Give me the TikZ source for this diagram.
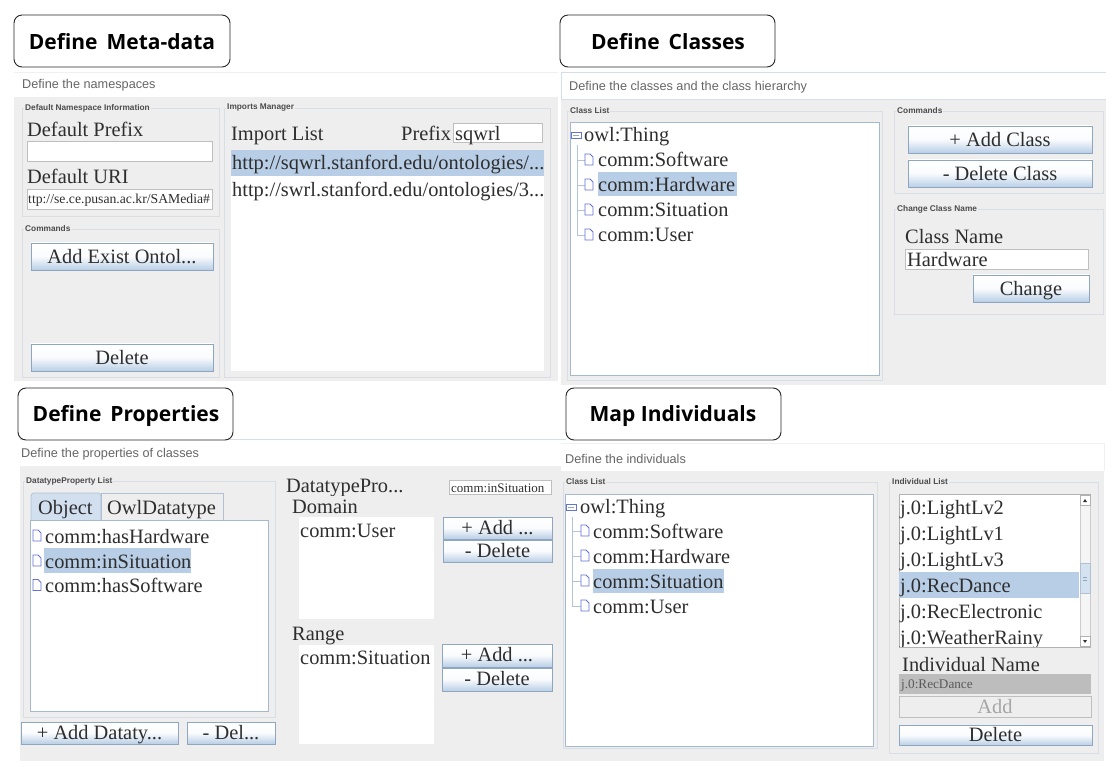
\documentclass[tikz,border=0pt]{standalone}
\usepackage{fontspec}
\setmainfont{Liberation Serif}
\newfontfamily\uifont{Liberation Sans}
\newfontfamily\titlefont{Open Sans}
\usetikzlibrary{calc}
\definecolor{panelgray}{HTML}{EEEEEE}
\definecolor{frameline}{HTML}{D9DEE4}
\definecolor{selblue}{HTML}{B8CEE6}
\definecolor{treeline}{HTML}{B4C4D8}
\definecolor{ink}{HTML}{2E2E2E}
\definecolor{edge}{HTML}{8FA6C0}
\definecolor{sepline}{HTML}{D5DEE8}
\newcommand{\fsz}[1]{\fontsize{#1}{#1}\selectfont}
\tikzset{
  x=1pt,y=-1pt,
  panelbg/.style={fill=panelgray,draw=none},
  sepstyle/.style={draw=sepline,line width=1pt},
  titlebox/.style={draw=black!85,fill=white,rounded corners=8pt,line width=0.9pt},
  titletext/.style={font=\titlefont\bfseries\fsz{21},text=black,inner sep=0pt,anchor=base},
  subtext/.style={font=\uifont\fsz{12.7},text=black!60,inner sep=0pt,anchor=west},
  grpframe/.style={draw=frameline,line width=0.9pt},
  grplabel/.style={font=\uifont\bfseries\fsz{8.3},text=black!70,fill=panelgray,inner sep=1pt,anchor=west},
  uitext/.style={font=\fsz{20.4},text=ink,inner sep=0pt,anchor=base west},
  uicenter/.style={font=\fsz{20.4},text=ink,inner sep=0pt,anchor=base},
  field/.style={fill=white,draw=black!25,line width=0.7pt},
  whitelist/.style={fill=white,draw=none},
  listbox/.style={fill=white,draw=edge!80,line width=0.9pt},
  selrow/.style={fill=selblue,draw=none},
  btnbox/.style={draw=edge,line width=0.8pt,top color=white,bottom color=selblue,middle color=white!92!selblue,shading angle=0},
  docicon/.style={draw=edge!70!blue,fill=white,line width=0.8pt},
  treelink/.style={draw=treeline,line width=0.7pt},
}
% group frame: name, x1,y1,x2,y2, label
\newcommand{\grp}[6]{\draw[grpframe] (#2,#3) rectangle (#4,#5);
  \node[grplabel] (#1) at (#2+2,#3) {#6};}
% button: name, x1,y1,x2,y2, label
\newcommand{\btn}[6]{\path[btnbox] (#2,#3) rectangle (#4,#5);
  \node[uicenter] (#1) at ({(#2+#4)/2},{(#3+#5)/2+2+(#5-#3)*0.185}) {#6};}
% tree row: name, icon-x, text-x, baseline, label
\newcommand{\doc}[5]{\draw[docicon] (#2,#4-13) -- (#2+5,#4-13) -- (#2+8,#4-10) -- (#2+8,#4-2) -- (#2,#4-2) -- cycle;
  \node[uitext] (#1) at (#3,#4) {#5};}
\newcommand{\fold}[2]{\draw[docicon] (#1,#2-3) rectangle (#1+10,#2+3);
  \draw[edge,line width=0.8pt] (#1+2,#2) -- (#1+8,#2);}
\begin{document}
\begin{tikzpicture}
\useasboundingbox (0,0) rectangle (1112,767);
\fill[white] (0,0) rectangle (1112,767);

% ---------- Define Meta-data ----------
\path[panelbg] (14,97) rectangle (558,381);
\draw[draw=black!6,line width=0.8pt] (14,72) -- (558,72);
\node[subtext] (subA) at (22,85.5) {Define the namespaces};
\grp{gA1}{22}{108}{219}{216}{Default Namespace Information}
\node[uitext] (tPrefix) at (27,137) {Default Prefix};
\path[field] (27,141) rectangle (212,161);
\node[uitext] (tUri) at (27,184) {Default URI};
\path[field] (27,189) rectangle (212,209);
\node[font=\fsz{13.7},text=ink,inner sep=0pt,anchor=base west] (vUri) at (28,204) {ttp://se.ce.pusan.ac.kr/SAMedia\#};
\grp{gA2}{22}{229}{219}{377}{Commands}
\btn{bExist}{31}{243}{213}{270}{Add Exist Ontol...}
\btn{bDelA}{31}{344}{213}{371}{Delete}
\grp{gA3}{224}{108}{550}{377}{Imports Manager}
\node[uitext] (tImport) at (231,141) {Import List};
\node[uitext] (tPfx) at (401,141) {Prefix};
\path[field] (453,123) rectangle (542,142);
\node[uitext] (vPfx) at (455,141) {sqwrl};
\path[whitelist] (231,150) rectangle (544,371);
\path[selrow] (231,150) rectangle (544,176);
\node[uitext] (imp1) at (232,170) {http://sqwrl.stanford.edu/ontologies/...};
\node[uitext] (imp2) at (232,197) {http://swrl.stanford.edu/ontologies/3...};
\draw[titlebox] (14,15) rectangle (230,67);
\node[titletext] (tA) at (122,50) {Define\, Meta-data};

% ---------- Define Classes ----------
\path[panelbg] (561,100) rectangle (1106,385);
\draw[sepstyle] (561,73) -- (1106,73);
\draw[sepstyle] (561,73) -- (561,100) -- (1106,100);
\node[subtext] (subB) at (569,87.5) {Define the classes and the class hierarchy};
\grp{gB1}{567}{111}{882}{380}{Class List}
\path[listbox] (570,122) rectangle (879,375);
\path[selrow] (598,172) rectangle (737,196);
\draw[treelink] (577,145) -- (577,235) -- (585,235) (577,160) -- (585,160) (577,185) -- (585,185) (577,210) -- (585,210);
\fold{571}{135}
\node[uitext] (bThing) at (584,142) {owl:Thing};
\doc{bSoft}{585}{598}{167}{comm:Software}
\doc{bHard}{585}{598}{192}{comm:Hardware}
\doc{bSitu}{585}{598}{217}{comm:Situation}
\doc{bUser}{585}{598}{242}{comm:User}
\grp{gB2}{894}{111}{1103}{193}{Commands}
\btn{bAddC}{908}{126}{1092}{153}{+ Add Class}
\btn{bDelC}{908}{160}{1092}{187}{- Delete Class}
\grp{gB3}{894}{209}{1103}{314}{Change Class Name}
\node[uitext] (tCName) at (905,244) {Class Name};
\path[field] (905,249) rectangle (1088,269);
\node[uitext] (vCName) at (907,267) {Hardware};
\btn{bChange}{973}{275}{1089}{302}{Change}
\draw[titlebox] (560,15) rectangle (775,67);
\node[titletext] (tB) at (668,50) {Define\, Classes};

% ---------- Define Properties ----------
\path[panelbg] (20,466) rectangle (561,761);
\draw[sepstyle] (20,440) -- (566,440);
\node[subtext] (subC) at (21,454.5) {Define the properties of classes};
\grp{gC1}{23}{481}{275}{717}{DatatypeProperty List}
\path[fill=selblue!65,draw=edge!70,line width=0.7pt,rounded corners=3pt] (31,520) -- (31,493) -- (101,493) -- (101,520);
\path[fill=panelgray,draw=edge!70,line width=0.7pt] (101,520) -- (101,493) -- (223,493) -- (223,520);
\node[uitext] (tabObj) at (38,514) {Object};
\node[uitext] (tabOwl) at (107,514) {OwlDatatype};
\path[listbox] (30,520) rectangle (268,711);
\path[selrow] (44,548) rectangle (191,573);
\doc{cHard}{33}{45}{543}{comm:hasHardware}
\doc{cSitu}{33}{45}{568}{comm:inSituation}
\doc{cSoft}{33}{45}{592.5}{comm:hasSoftware}
\btn{bAddD}{21}{722}{178}{744}{+ Add Dataty...}
\btn{bDelD}{187}{722}{275}{744}{- Del...}
\begin{scope}
\clip (280,470) rectangle (440,495.5);
\node[uitext] (tDP) at (286,492) {DatatypePro...};
\end{scope}
\path[field] (449,480) rectangle (551,494);
\node[font=\fsz{13},text=ink,inner sep=0pt,anchor=base west] (vDP) at (451,492) {comm:inSituation};
\node[uitext] (tDomain) at (292,513) {Domain};
\path[whitelist] (299,517) rectangle (434,619);
\node[uitext] (vDomain) at (300,537) {comm:User};
\btn{bAddDom}{443}{517}{552}{539}{+ Add ...}
\btn{bDelDom}{443}{540}{552}{562}{- Delete}
\node[uitext] (tRange) at (292,640) {Range};
\path[whitelist] (299,645) rectangle (434,744);
\node[uitext] (vRange) at (300,664) {comm:Situation};
\btn{bAddRan}{442}{644}{552}{667}{+ Add ...}
\btn{bDelRan}{442}{668}{552}{691}{- Delete}
\draw[titlebox] (18,388) rectangle (233,440);
\node[titletext] (tC) at (126,422) {Define\, Properties};

% ---------- Map Individuals ----------
\path[panelbg] (561,471) rectangle (1104,761);
\draw[draw=black!6,line width=0.8pt] (561,443) -- (1104,443) -- (1104,471);
\node[subtext] (subD) at (565,458.5) {Define the individuals};
\grp{gD1}{563}{482}{877}{748}{Class List}
\path[listbox] (565.5,494) rectangle (873,746);
\path[selrow] (593,569) rectangle (724,593);
\draw[treelink] (572,517) -- (572,606) -- (581,606) (572,531) -- (581,531) (572,556) -- (581,556) (572,581) -- (581,581);
\fold{566}{507}
\node[uitext] (dThing) at (580,513) {owl:Thing};
\doc{dSoft}{581}{593}{538}{comm:Software}
\doc{dHard}{581}{593}{563}{comm:Hardware}
\doc{dSitu}{581}{593}{588}{comm:Situation}
\doc{dUser}{581}{593}{613}{comm:User}
\grp{gD2}{889}{482}{1098}{753}{Individual List}
\path[listbox,draw=black!30] (899,494) rectangle (1090,647);
\path[selrow] (899,572) rectangle (1079,598);
\begin{scope}
\clip (899,494) rectangle (1079,646);
\node[uitext] (i1) at (900,514) {j.0:LightLv2};
\node[uitext] (i2) at (900,540) {j.0:LightLv1};
\node[uitext] (i3) at (900,566) {j.0:LightLv3};
\node[uitext] (i4) at (900,592) {j.0:RecDance};
\node[uitext] (i5) at (900,618) {j.0:RecElectronic};
\node[uitext] (i6) at (900,644) {j.0:WeatherRainy};
\end{scope}
\path[draw=black!20,fill=panelgray!60,line width=0.5pt] (1080,495) rectangle (1090,646);
\path[fill=white,draw=black!30,line width=0.5pt] (1080,495) rectangle (1090,505) (1080,636) rectangle (1090,646);
\fill[black!80] (1083,502) -- (1087,502) -- (1085,499) -- cycle;
\fill[black!80] (1083,640) -- (1087,640) -- (1085,643) -- cycle;
\path[fill=selblue!60,draw=edge!70,line width=0.5pt] (1080,563) rectangle (1090,593);
\draw[edge,line width=0.8pt] (1083,577) -- (1087,577) (1083,580) -- (1087,580);
\node[uitext] (tIName) at (902,671) {Individual Name};
\path[fill=black!26] (899,674) rectangle (1091,694);
\node[font=\fsz{13.2},text=black!65,inner sep=0pt,anchor=base west] (vIName) at (901,688) {j.0:RecDance};
\path[fill=panelgray,draw=black!25,line width=0.8pt] (899,696) rectangle (1091,717);
\node[uicenter,text=black!35] (bAddI) at (995,713) {Add};
\btn{bDelI}{899}{725}{1092}{745.5}{Delete}
\draw[titlebox] (566,388) rectangle (781,440);
\node[titletext] (tD) at (673,422) {Map Individuals};
\end{tikzpicture}
\end{document}
